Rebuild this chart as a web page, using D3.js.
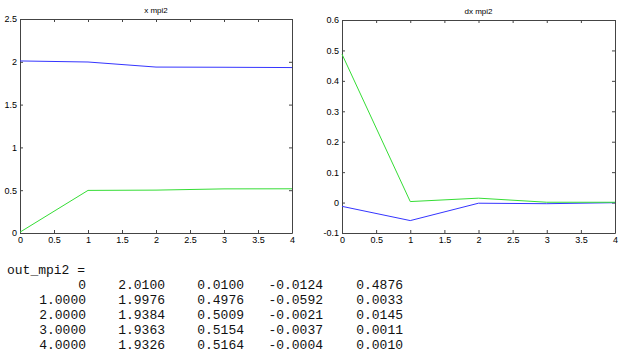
<!DOCTYPE html>
<html>
<head>
<meta charset="utf-8">
<script src="https://cdn.jsdelivr.net/npm/d3@7"></script>
<style>
  body { margin: 0; background: #fff; }
  svg { display: block; }
  .tick text { font-family: Arial, "Liberation Sans", sans-serif; font-size: 9px; fill: #000; }
  .title { font-family: Arial, "Liberation Sans", sans-serif; font-size: 8px; fill: #000; }
  .out { font-family: "Liberation Mono", "Courier New", monospace; font-size: 13px; fill: #111; }
</style>
</head>
<body>
<script>
// time steps and the four output columns (out_mpi2)
const t   = [0, 1, 2, 3, 4];
const x1  = [2.0100, 1.9976, 1.9384, 1.9363, 1.9326];
const x2  = [0.0100, 0.4976, 0.5009, 0.5154, 0.5164];
const dx1 = [-0.0124, -0.0592, -0.0021, -0.0037, -0.0004];
const dx2 = [0.4876, 0.0033, 0.0145, 0.0011, 0.0010];

const xTicks = [0, 0.5, 1, 1.5, 2, 2.5, 3, 3.5, 4];
const yTicksX = [0, 0.5, 1, 1.5, 2, 2.5];
const yTicksDx = [-0.1, 0, 0.1, 0.2, 0.3, 0.4, 0.5, 0.6];

const width = 625, height = 363;

const svg = d3.select("body").append("svg")
  .attr("width", width)
  .attr("height", height);

// draws one matlab style subplot, box with inward ticks on all sides
function subplot(box, title, yDomain, yTicks, series) {
  const x = d3.scaleLinear().domain([0, 4]).range([box.left, box.right]);
  const y = d3.scaleLinear().domain(yDomain).range([box.bottom, box.top]);
  const g = svg.append("g");

  const fmt = d => String(d);

  g.append("g")
    .attr("transform", `translate(0,${box.bottom})`)
    .call(d3.axisBottom(x).tickValues(xTicks).tickFormat(fmt).tickSizeInner(-3).tickSizeOuter(0).tickPadding(4));
  g.append("g")
    .attr("transform", `translate(0,${box.top})`)
    .call(d3.axisTop(x).tickValues(xTicks).tickFormat("").tickSizeInner(-3).tickSizeOuter(0));
  g.append("g")
    .attr("transform", `translate(${box.left},0)`)
    .call(d3.axisLeft(y).tickValues(yTicks).tickFormat(fmt).tickSizeInner(-3).tickSizeOuter(0).tickPadding(3));
  g.append("g")
    .attr("transform", `translate(${box.right},0)`)
    .call(d3.axisRight(y).tickValues(yTicks).tickFormat("").tickSizeInner(-3).tickSizeOuter(0));

  g.selectAll(".domain").attr("stroke", "#444");
  g.selectAll(".tick line").attr("stroke", "#444");

  const line = d3.line()
    .x((d, i) => x(t[i]))
    .y(d => y(d));

  series.forEach(s => {
    g.append("path")
      .datum(s.values)
      .attr("fill", "none")
      .attr("stroke", s.color)
      .attr("stroke-width", 1)
      .attr("d", line);
  });

  g.append("text")
    .attr("class", "title")
    .attr("x", (box.left + box.right) / 2)
    .attr("y", box.top - 6)
    .attr("text-anchor", "middle")
    .text(title);
}

subplot({left: 20, right: 292, top: 19, bottom: 233}, "x mpi2", [0, 2.5], yTicksX, [
  {values: x1, color: "#3535ff"},
  {values: x2, color: "#35dd35"}
]);

subplot({left: 342, right: 615, top: 20, bottom: 233}, "dx mpi2", [-0.1, 0.6], yTicksDx, [
  {values: dx1, color: "#3535ff"},
  {values: dx2, color: "#35dd35"}
]);

// the command window printout below the plots
const out = svg.append("g");
out.append("text")
  .attr("class", "out")
  .attr("x", 7)
  .attr("y", 274)
  .text("out_mpi2 =");

const cols = [t, x1, x2, dx1, dx2];
const colRight = [86, 165, 244, 323, 403];
const cell = (c, v) => (c === 0 && v === 0) ? "0" : v.toFixed(4);

t.forEach((_, r) => {
  cols.forEach((col, c) => {
    out.append("text")
      .attr("class", "out")
      .attr("x", colRight[c])
      .attr("y", 289 + r * 15)
      .attr("text-anchor", "end")
      .text(cell(c, col[r]));
  });
});
</script>
</body>
</html>
